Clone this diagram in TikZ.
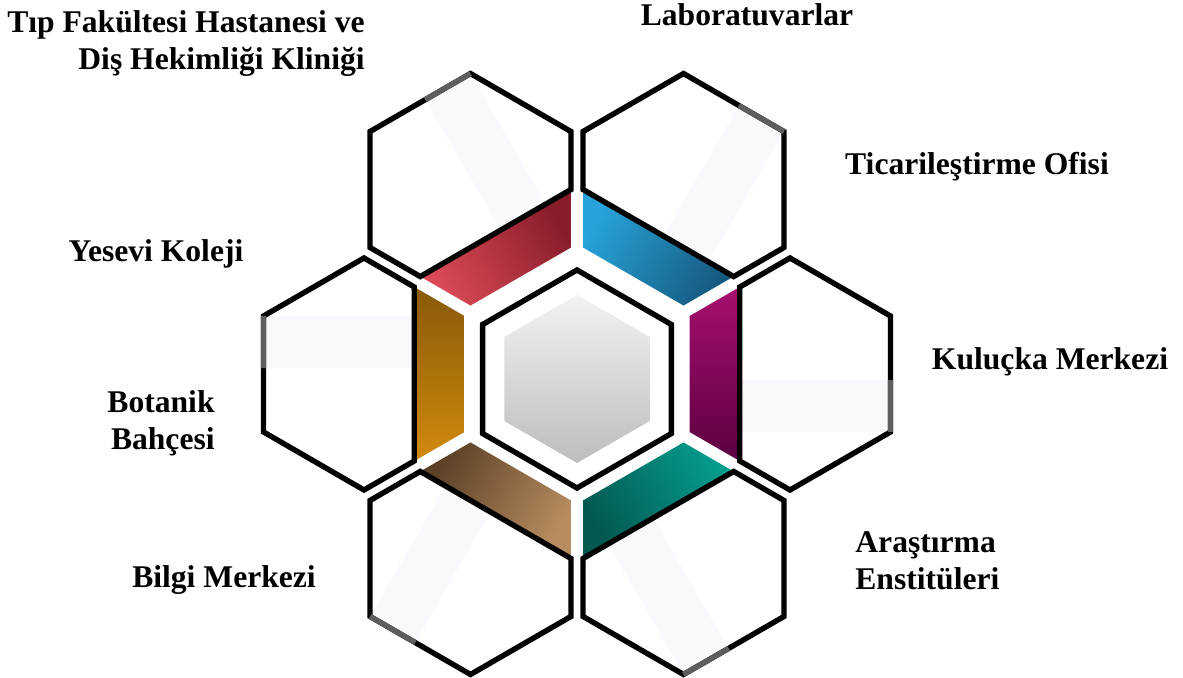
\documentclass[tikz,border=0pt]{standalone}
\usepackage{fontspec}
\setmainfont{Liberation Serif}
\usetikzlibrary{calc}

\definecolor{shine}{HTML}{F7F9FC}
\definecolor{edgegray}{HTML}{5E5E5E}
\definecolor{rL}{HTML}{A60F6E}\definecolor{rD}{HTML}{5C0042}
\definecolor{trL}{HTML}{27A3D9}\definecolor{trD}{HTML}{165A80}
\definecolor{tlL}{HTML}{DA4A56}\definecolor{tlD}{HTML}{881C2B}
\definecolor{lL}{HTML}{D18A0C}\definecolor{lD}{HTML}{885908}
\definecolor{blL}{HTML}{B78C5F}\definecolor{blD}{HTML}{5B3F26}
\definecolor{brL}{HTML}{049C8D}\definecolor{brD}{HTML}{03584F}

\tikzset{
  hexline/.style={line width=2.7pt, line join=miter},
  txt/.style={font=\fontsize{15.8}{18.5}\selectfont\bfseries, inner sep=0pt},
}

\begin{document}
\begin{tikzpicture}[x=0.5pt,y=0.5pt]
  \useasboundingbox (0,0) rectangle (1183,-678);

  \coordinate (ring) at (577,-374);
  \coordinate (mid) at (577,-379);

  \def\dd{213}
  \def\rr{116}
  \def\ap{100.46}

  % outer hexagons with their coloured bands
  \foreach \t/\cl/\cd in {0/rL/rD, 60/trL/trD, 120/tlL/tlD, 180/lL/lD, 240/blL/blD, 300/brL/brD} {
    \coordinate (c) at ($(ring)+(\t:\dd)$);
    \coordinate (p0) at ($(c)+(\t-30:\rr)$);
    \coordinate (p1) at ($(c)+(\t+30:\rr)$);
    \coordinate (p2) at ($(c)+(\t+90:\rr)$);
    \coordinate (p3) at ($(c)+(\t+150:\rr)$);
    \coordinate (p4) at ($(c)+(\t+210:\rr)$);
    \coordinate (p5) at ($(c)+(\t+270:\rr)$);
    \coordinate (m1) at ($(c)+(\t+120:\ap)$);
    \coordinate (m2) at ($(c)+(\t+240:\ap)$);
    \coordinate (g) at ($(p0)!0.45!(p1)$);
    \coordinate (p0b) at ($(p0)+(\t+180:150.7)$);
    \coordinate (gb) at ($(g)+(\t+180:150.7)$);

    \fill[shine] (p0) -- (g) -- (gb) -- (p0b) -- cycle;
    \shade[left color=\cl, right color=\cd, shading angle=\t] (m1) -- (p3) -- (p4) -- (m2) -- cycle;
    \draw[hexline] (m1) -- (p2) -- (p1) -- (p0) -- (p5) -- (m2) -- cycle;
    \draw[line width=2.7pt, edgegray] (p0) -- (g);
  }

  % centre
  \draw[hexline, fill=white] ($(mid)+(90:109)$) \foreach \a in {150,210,270,330,30} { -- ($(mid)+(\a:109)$) } -- cycle;
  \shade[top color=white!95!black, bottom color=black!26] ($(mid)+(90:84)$) \foreach \a in {150,210,270,330,30} { -- ($(mid)+(\a:84)$) } -- cycle;

  % labels
  \node[txt, anchor=north east, align=right] (tip) at (365,-10) {Tıp Fakültesi Hastanesi ve\\Diş Hekimliği Kliniği};
  \node[txt, anchor=base] (lab) at (747,-26) {Laboratuvarlar};
  \node[txt, anchor=base] (tic) at (977,-175) {Ticarileştirme Ofisi};
  \node[txt, anchor=base] (kul) at (1050,-370) {Kuluçka Merkezi};
  \node[txt, anchor=north west, align=left] (ara) at (855,-531) {Araştırma\\Enstitüleri};
  \node[txt, anchor=base] (bil) at (224,-587) {Bilgi Merkezi};
  \node[txt, anchor=north east, align=right] (bot) at (215,-390) {Botanik\\Bahçesi};
  \node[txt, anchor=base] (yes) at (156,-262) {Yesevi Koleji};

\end{tikzpicture}
\end{document}
